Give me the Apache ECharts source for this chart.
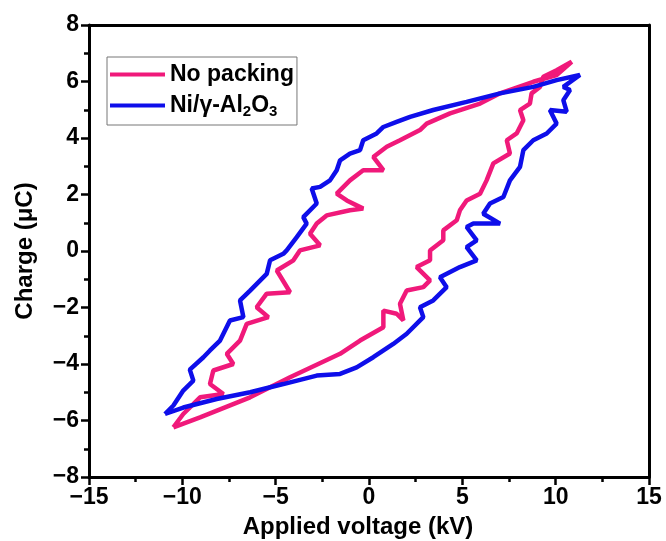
<!DOCTYPE html>
<html>
<head>
<meta charset="utf-8">
<script src="https://cdn.jsdelivr.net/npm/echarts@6/dist/echarts.min.js"></script>
<style>
  html, body { margin: 0; padding: 0; background: #fff; }
  #main { width: 666px; height: 541px; }
</style>
</head>
<body>
<div id="main"></div>
<script>
// values, [voltage kV, charge uC]
var noPacking = [
  [-10.48, -6.24], [-9.95, -5.77], [-9.05, -5.18], [-7.80, -5.06], [-8.52, -4.71],
  [-8.34, -4.23], [-7.27, -4.00], [-7.62, -3.64], [-6.91, -3.17], [-6.55, -2.58],
  [-5.39, -2.34], [-6.02, -1.99], [-5.48, -1.51], [-4.23, -1.46], [-4.94, -0.69],
  [-4.05, -0.33], [-3.70, 0.02], [-2.62, 0.20], [-3.16, 0.61], [-2.80, 0.97],
  [-2.27, 1.26], [-1.02, 1.44], [-0.31, 1.50], [-1.19, 1.79], [-1.73, 2.03],
  [-1.02, 2.50], [-0.31, 2.86], [0.77, 2.86], [0.23, 3.33], [0.95, 3.69],
  [1.66, 3.92], [2.73, 4.28], [3.09, 4.51], [4.34, 4.87], [5.95, 5.22],
  [7.02, 5.58], [8.80, 5.99], [10.05, 6.23], [10.86, 6.70],
  [10.05, 6.40], [9.34, 6.17], [9.16, 5.81], [8.71, 5.58], [8.62, 5.22],
  [8.09, 4.99], [8.27, 4.63], [7.91, 4.16], [7.38, 3.92], [7.55, 3.45],
  [6.66, 3.10], [6.30, 2.50], [5.95, 2.03], [5.23, 1.79], [4.87, 1.44],
  [4.70, 1.09], [3.98, 0.73], [3.98, 0.38], [3.27, 0.02], [3.27, -0.33],
  [2.55, -0.57], [3.27, -1.04], [2.91, -1.28], [2.02, -1.40], [1.66, -1.87],
  [1.84, -2.46], [1.48, -2.22], [0.77, -2.11], [0.77, -2.70], [-0.48, -3.17],
  [-1.55, -3.64], [-4.23, -4.47], [-6.37, -5.18], [-9.05, -5.89], [-10.48, -6.24]
];

var niAl2O3 = [
  [-10.93, -5.77], [-10.48, -5.47], [-9.95, -4.94], [-9.41, -4.59], [-9.60, -4.20],
  [-8.87, -3.76], [-8.52, -3.52], [-7.98, -3.17], [-7.45, -2.46], [-6.73, -2.34],
  [-6.91, -1.75], [-6.37, -1.40], [-5.48, -0.81], [-5.30, -0.33], [-4.59, -0.10],
  [-4.41, 0.02], [-3.87, 0.49], [-3.34, 0.97], [-3.52, 1.20], [-2.80, 1.68],
  [-3.07, 2.21], [-2.62, 2.27], [-2.09, 2.50], [-1.73, 2.86], [-1.55, 3.21],
  [-1.02, 3.45], [-0.48, 3.57], [-0.31, 3.92], [0.41, 4.16], [0.77, 4.39],
  [1.48, 4.57], [2.20, 4.75], [3.44, 4.99], [5.23, 5.28], [7.02, 5.58],
  [8.80, 5.81], [10.05, 6.05], [11.30, 6.23],
  [10.41, 5.81], [10.77, 5.70], [10.41, 5.34], [10.59, 4.93], [9.69, 4.99],
  [10.05, 4.51], [9.52, 4.16], [8.80, 3.92], [8.27, 3.57], [8.09, 2.98],
  [7.55, 2.50], [7.20, 1.91], [6.48, 1.68], [6.12, 1.32], [7.02, 0.97],
  [5.59, 0.97], [5.23, 0.85], [5.77, 0.38], [5.23, 0.14], [5.77, -0.33],
  [4.87, -0.57], [3.80, -0.93], [4.16, -1.28], [3.44, -1.75], [2.73, -1.99],
  [2.91, -2.34], [2.02, -2.93], [1.30, -3.29], [0.23, -3.76], [-0.66, -4.12],
  [-1.55, -4.35], [-2.80, -4.41], [-4.59, -4.71], [-6.37, -5.00], [-8.16, -5.24],
  [-9.95, -5.54], [-10.93, -5.77]
];

var seriesNames = ['No packing', 'Ni/γ-Al2O3'];
var xTicks = [-15, -10, -5, 0, 5, 10, 15];
var yTicks = [-8, -6, -4, -2, 0, 2, 4, 6, 8];

var font = '"Liberation Sans", Arial, sans-serif';
var minus = function (v) { return String(v).replace('-', '\u2212'); };

var myChart = echarts.init(document.getElementById('main'));

var tickLabel = { color: '#000', fontSize: 23, fontWeight: 'bold', fontFamily: font };
var nameStyle = { color: '#000', fontSize: 24, fontWeight: 'bold', fontFamily: font };

var option = {
    animation: false,
    backgroundColor: '#fff',
    grid: { left: 89, right: 17, top: 25, bottom: 64, outerBoundsMode: 'none' },
    legend: {
        orient: 'vertical',
        left: 107,
        top: 57,
        icon: 'rect',
        itemWidth: 55,
        itemHeight: 4,
        itemGap: 8,
        padding: [6, 3, 6, 3],
        borderColor: '#777',
        borderWidth: 1,
        data: seriesNames,
        formatter: function (name) {
            if (name === 'Ni/γ-Al2O3') return 'Ni/γ-Al{s|2}O{s|3}';
            return name;
        },
        textStyle: {
            color: '#000', fontSize: 23, fontWeight: 'bold', fontFamily: font,
            rich: {
                s: { fontSize: 15, fontWeight: 'bold', fontFamily: font, color: '#000', padding: [12, 0, 0, 0] }
            }
        }
    },
    xAxis: [{
        type: 'value',
        min: xTicks[0],
        max: xTicks[xTicks.length - 1],
        interval: 5,
        name: 'Applied voltage (kV)',
        nameLocation: 'middle',
        nameGap: 38,
        nameTextStyle: Object.assign({ padding: [0, 22, 0, 0] }, nameStyle),
        axisLine: { onZero: false, lineStyle: { color: '#000', width: 3 } },
        axisTick: { length: 8, lineStyle: { width: 2.5, color: '#000' } },
        minorTick: { show: true, splitNumber: 2, length: 5, lineStyle: { width: 2.5, color: '#000' } },
        splitLine: { show: false },
        axisLabel: Object.assign({ margin: 9, formatter: minus }, tickLabel)
    }, {
        type: 'value',
        position: 'top',
        min: xTicks[0],
        max: xTicks[xTicks.length - 1],
        axisLine: { onZero: false, lineStyle: { color: '#000', width: 3 } },
        axisTick: { show: false },
        axisLabel: { show: false },
        splitLine: { show: false }
    }],
    yAxis: [{
        type: 'value',
        min: yTicks[0],
        max: yTicks[yTicks.length - 1],
        interval: 2,
        name: 'Charge (μC)',
        nameLocation: 'middle',
        nameGap: 52,
        nameTextStyle: nameStyle,
        axisLine: { onZero: false, lineStyle: { color: '#000', width: 3 } },
        axisTick: { length: 8, lineStyle: { width: 2.5, color: '#000' } },
        minorTick: { show: true, splitNumber: 2, length: 5, lineStyle: { width: 2.5, color: '#000' } },
        splitLine: { show: false },
        axisLabel: Object.assign({ margin: 10, formatter: minus }, tickLabel)
    }, {
        type: 'value',
        position: 'right',
        min: yTicks[0],
        max: yTicks[yTicks.length - 1],
        axisLine: { onZero: false, lineStyle: { color: '#000', width: 3 } },
        axisTick: { show: false },
        axisLabel: { show: false },
        splitLine: { show: false }
    }],
    series: [{
        name: seriesNames[0],
        type: 'line',
        data: noPacking,
        showSymbol: false,
        color: '#f0197a',
        lineStyle: { width: 4.5, color: '#f0197a' },
        z: 2
    }, {
        name: seriesNames[1],
        type: 'line',
        data: niAl2O3,
        showSymbol: false,
        color: '#0e0eea',
        lineStyle: { width: 4.5, color: '#0e0eea' },
        z: 3
    }]
};

option && myChart.setOption(option);
</script>
</body>
</html>
